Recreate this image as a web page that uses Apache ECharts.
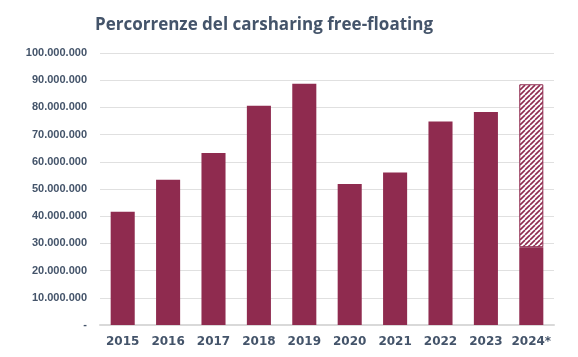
<!DOCTYPE html>
<html><head><meta charset="utf-8">
<script src="https://cdn.jsdelivr.net/npm/echarts@6/dist/echarts.min.js"></script>
<style>html,body{margin:0;padding:0;background:#fff}#c{width:578px;height:357px}</style>
</head><body><div id="c"></div>
<script>
var categories = ['2015','2016','2017','2018','2019','2020','2021','2022','2023','2024*'];
var solidValues = [41600000, 53400000, 63200000, 80600000, 88700000, 51800000, 56100000, 74800000, 78300000, 28600000];
var estimateValues = [null, null, null, null, null, null, null, null, null, 59900000];
var yTicks = [0, 10000000, 20000000, 30000000, 40000000, 50000000, 60000000, 70000000, 80000000, 90000000, 100000000];

var barColor = '#8f2b4f';
var pc = document.createElement('canvas');
pc.width = 5; pc.height = 5;
var ctx = pc.getContext('2d');
ctx.fillStyle = '#ffffff'; ctx.fillRect(0,0,5,5);
ctx.strokeStyle = barColor; ctx.lineWidth = 1.6;
for (var k = -5; k <= 10; k += 5) {
  ctx.beginPath(); ctx.moveTo(k, 5); ctx.lineTo(k + 5, 0); ctx.stroke();
}

function fmt(v){
  if (v === 0) return '-';
  return String(v).replace(/\B(?=(\d{3})+(?!\d))/g, '.');
}

var chart = echarts.init(document.getElementById('c'), null, {renderer:'canvas'});
chart.setOption({
  animation: false,
  title: {
    text: 'Percorrenze del carsharing free-floating',
    left: 90, top: 12,
    textStyle: {fontFamily: 'Open Sans', fontWeight: 'bold', fontSize: 17, color: '#44546a'}
  },
  grid: {left: 100, right: 24, top: 53, bottom: 32},
  xAxis: {
    type: 'category', data: categories,
    axisLine: {lineStyle: {color: '#d9d9d9', width: 2}},
    axisTick: {show: false},
    axisLabel: {interval: 0, fontFamily: 'DejaVu Sans', fontWeight: 'bold', fontSize: 12, color: '#44546a', margin: 11}
  },
  yAxis: {
    type: 'value', min: 0, max: 100000000, interval: 10000000,
    axisLine: {show: false}, axisTick: {show: false},
    splitLine: {lineStyle: {color: '#e0e0e0', width: 1}},
    axisLabel: {fontFamily: 'Liberation Sans', fontWeight: 'bold', fontSize: 11, color: '#44546a', margin: 13,
      formatter: function(v){ return yTicks.indexOf(v) >= 0 ? fmt(v) : ''; }}
  },
  series: [
    {type: 'bar', stack: 's', data: solidValues, barWidth: '53%', itemStyle: {color: barColor}},
    {type: 'bar', stack: 's', data: estimateValues, barWidth: '53%',
      itemStyle: {color: {image: pc, repeat: 'repeat'}, borderColor: barColor, borderWidth: 1}}
  ]
});
</script></body></html>
